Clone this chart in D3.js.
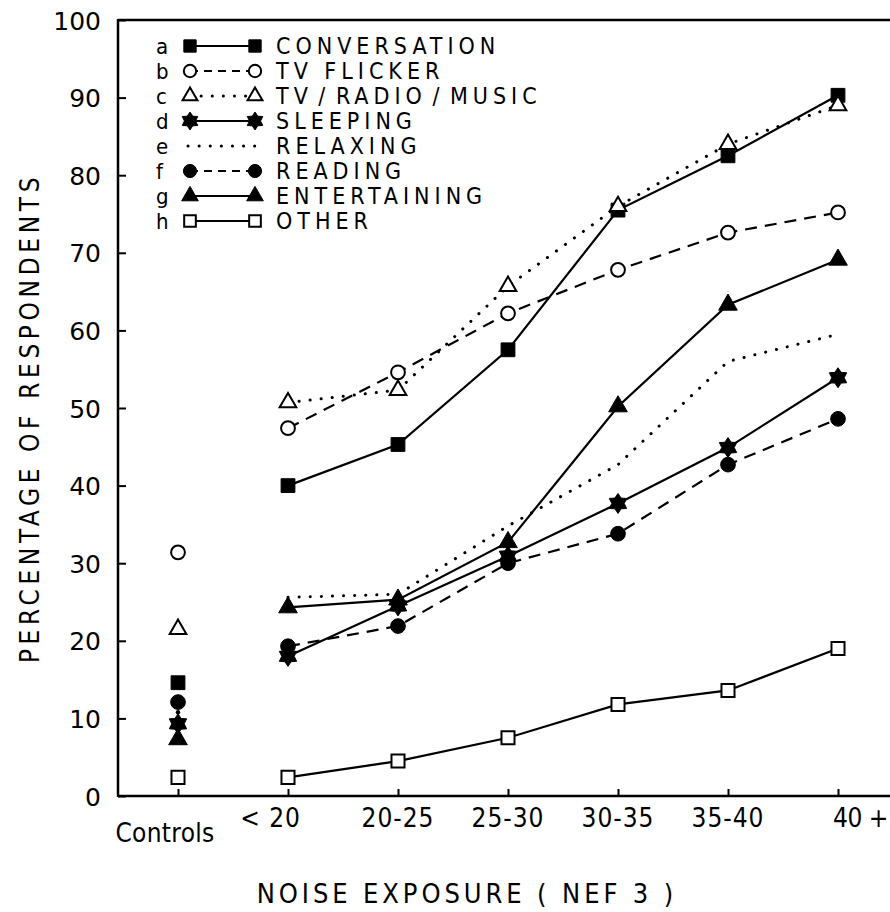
<!DOCTYPE html>
<html><head><meta charset="utf-8">
<script src="https://cdn.jsdelivr.net/npm/d3@7"></script>
<style>
body{margin:0;background:#fff}
svg{display:block}
.cond{font-family:"DejaVu Sans Condensed","DejaVu Sans",sans-serif}
</style></head>
<body>
<svg id="c" width="890" height="912"></svg>
<script>
// ---- data ----
const categories = ["Controls", "< 20", "20-25", "25-30", "30-35", "35-40", "40 +"];
const yTicks = [0,10,20,30,40,50,60,70,80,90,100];
const seriesKeys = ["a","b","c","d","e","f","g","h"];
const seriesNames = ["CONVERSATION","TV FLICKER","TV / RADIO / MUSIC","SLEEPING","RELAXING","READING","ENTERTAINING","OTHER"];
// values: [Controls, <20, 20-25, 25-30, 30-35, 35-40, 40+]
const conversation  = [14.6, 40.0, 45.3, 57.5, 75.5, 82.5, 90.3];
const tvFlicker     = [31.4, 47.4, 54.6, 62.2, 67.8, 72.6, 75.2];
const tvRadioMusic  = [21.5, 50.7, 52.3, 65.7, 76.0, 84.0, 89.0];
const sleeping      = [ 9.3, 18.0, 24.5, 30.9, 37.7, 44.9, 53.9];
const relaxing      = [10.8, 25.6, 26.0, 34.8, 42.7, 56.0, 59.5];
const reading       = [12.1, 19.3, 21.9, 30.0, 33.8, 42.7, 48.6];
const entertaining  = [ 7.3, 24.3, 25.3, 32.7, 50.2, 63.3, 69.1];
const other         = [ 2.4,  2.4,  4.5,  7.5, 11.8, 13.6, 19.0];
const seriesValues = [conversation, tvFlicker, tvRadioMusic, sleeping, relaxing, reading, entertaining, other];

// ---- styles (not data) ----
const hexStar = { draw(ctx, size){
  const R = Math.sqrt(size)*0.62, r = R*0.62;
  for(let i=0;i<12;i++){
    const a = Math.PI/6*i - Math.PI/2;
    const rad = i%2===0 ? R : r;
    const px = rad*Math.cos(a), py = rad*Math.sin(a);
    i===0 ? ctx.moveTo(px,py) : ctx.lineTo(px,py);
  }
  ctx.closePath();
}};
const styles = [
  {sym:d3.symbolSquare, size:190, fill:"#000", dash:null},
  {sym:d3.symbolCircle, size:150, fill:"#fff", dash:"12,8"},
  {sym:d3.symbolTriangle, size:120, fill:"#fff", dash:"0.1,11", dotted:true},
  {sym:hexStar, size:260, fill:"#000", dash:null},
  {sym:null, size:0, fill:"#000", dash:"0.1,11", dotted:true},
  {sym:d3.symbolCircle, size:170, fill:"#000", dash:"12,8"},
  {sym:d3.symbolTriangle, size:150, fill:"#000", dash:null},
  {sym:d3.symbolSquare, size:170, fill:"#fff", dash:null}
];

const svg = d3.select("#c");
const x = d3.scalePoint().domain(categories).range([178, 838]);
const y = d3.scaleLinear().domain([0,100]).range([796, 20]);
const X0 = 118, X1 = 890;

// frame
svg.append("line").attr("x1",X0).attr("x2",X1).attr("y1",y(0)).attr("y2",y(0)).attr("stroke","#000").attr("stroke-width",2.5);
svg.append("line").attr("x1",X0).attr("x2",X1).attr("y1",y(100)).attr("y2",y(100)).attr("stroke","#000").attr("stroke-width",2.5);
svg.append("line").attr("x1",X0).attr("x2",X0).attr("y1",y(100)-1).attr("y2",y(0)+1).attr("stroke","#000").attr("stroke-width",2.5);

// y axis (ticks inward)
const yAxis = d3.axisRight(y).tickValues(yTicks).tickSize(8).tickFormat(d=>d);
const gy = svg.append("g").attr("transform",`translate(${X0},0)`).call(yAxis);
gy.select(".domain").remove();
gy.selectAll(".tick line").attr("stroke-width",2);
gy.selectAll(".tick text").attr("x",-17).attr("text-anchor","end").attr("dy","0.36em")
  .attr("font-family","DejaVu Sans, sans-serif").attr("font-size",25).attr("fill","#000");

// x axis (ticks upward)
const xAxis = d3.axisBottom(x).tickSize(-7).tickFormat("");
const gx = svg.append("g").attr("transform",`translate(0,${y(0)})`).call(xAxis);
gx.select(".domain").remove();
gx.selectAll(".tick line").attr("stroke-width",2);
// x labels
const labelPos = {"Controls":[-13,46,"middle"],"< 20":[13,31,"end"],"40 +":[-5,31,"start"]};
svg.append("g").selectAll("text").data(categories).join("text")
  .attr("class","cond")
  .attr("x", d => x(d) + (labelPos[d] ? labelPos[d][0] : 0))
  .attr("y", d => y(0) + (labelPos[d] ? labelPos[d][1] : 31))
  .attr("text-anchor", d => labelPos[d] ? labelPos[d][2] : "middle")
  .attr("font-size", 26)
  .attr("letter-spacing", d => d==="Controls" ? 0.3 : (d==="40 +" ? -0.5 : 1))
  .text(d=>d);

// axis titles
svg.append("text").attr("class","cond").attr("x",467).attr("y",903).attr("text-anchor","middle")
  .attr("font-size",27).attr("letter-spacing",3.9).text("NOISE EXPOSURE ( NEF 3 )");
svg.append("text").attr("class","cond").attr("transform","translate(39,418) rotate(-90)").attr("text-anchor","middle")
  .attr("font-size",26).attr("letter-spacing",4.6).text("PERCENTAGE OF RESPONDENTS");

// lines (exclude Controls)
const line = d3.line().x(d=>x(d.c)).y(d=>y(d.v));
seriesValues.forEach((vals,i)=>{
  const st = styles[i];
  const pts = vals.map((v,j)=>({c:categories[j], v})).slice(1);
  svg.append("path").datum(pts).attr("d",line).attr("fill","none").attr("stroke","#000")
    .attr("stroke-width", st.dotted ? 3 : 2.2)
    .attr("stroke-linecap", st.dotted ? "round" : "butt")
    .attr("stroke-dasharray", st.dash);
});
// markers
seriesValues.forEach((vals,i)=>{
  const st = styles[i];
  const g = svg.append("g");
  if(!st.sym){
    g.append("circle").attr("cx",x(categories[0])).attr("cy",y(vals[0])).attr("r",2.2).attr("fill","#000");
    return;
  }
  const sym = d3.symbol().type(st.sym).size(st.size);
  g.selectAll("path").data(vals.map((v,j)=>({c:categories[j], v}))).join("path")
    .attr("transform", d=>`translate(${x(d.c)},${y(d.v)})`)
    .attr("d", sym).attr("fill", st.fill).attr("stroke","#000").attr("stroke-width", st.fill==="#fff"?2:1);
});

// legend
const lg = svg.append("g");
const rowY = i => 46 + i*25;
seriesKeys.forEach((k,i)=>{
  const st = styles[i];
  lg.append("text").attr("class","cond").attr("x",156).attr("y",rowY(i)).attr("dy","0.35em")
    .attr("font-size",22).text(k);
  lg.append("line").attr("x1", st.sym?190:188).attr("x2", st.sym?255:257).attr("y1",rowY(i)).attr("y2",rowY(i))
    .attr("stroke","#000").attr("stroke-width", st.dotted?3:2)
    .attr("stroke-linecap", st.dotted ? "round":"butt")
    .attr("stroke-dasharray", st.dotted ? "0.1,11" : (st.dash ? "8,6" : null));
  if(st.sym){
    const sym = d3.symbol().type(st.sym).size(st.size*0.8);
    [190,255].forEach(px=>{
      lg.append("path").attr("transform",`translate(${px},${rowY(i)})`).attr("d",sym)
        .attr("fill",st.fill).attr("stroke","#000").attr("stroke-width",st.fill==="#fff"?2:1);
    });
  }
  lg.append("text").attr("class","cond").attr("x",276).attr("y",rowY(i)).attr("dy","0.36em")
    .attr("font-size",23).attr("letter-spacing",5)
    .attr("word-spacing", seriesNames[i].includes("/") ? -6 : 0)
    .text(seriesNames[i]);
});
</script>
</body></html>
